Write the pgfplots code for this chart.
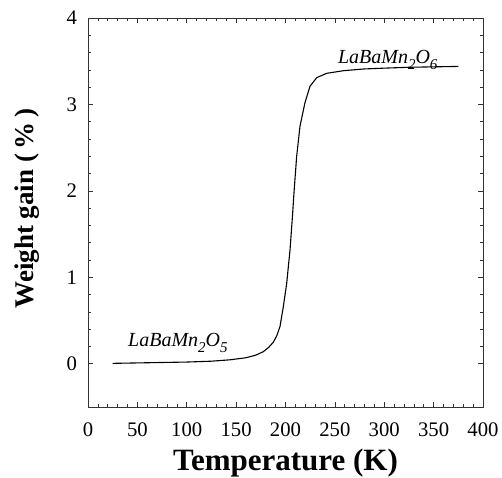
\documentclass[border=0pt]{standalone}
\usepackage{pgfplots}
\pgfplotsset{compat=1.18}
\usetikzlibrary{calc}
\usepackage{fontspec}
\setmainfont{Liberation Serif}
\newcommand{\sub}[1]{\raisebox{-0.3em}{\fontsize{15}{18}\selectfont #1}}
\begin{document}
\begin{tikzpicture}
\begin{axis}[
  name=ax,
  scale only axis,
  width=395pt, height=389pt,
  xmin=0, xmax=400, ymin=-0.5, ymax=4,
  xtick={0,50,...,400}, ytick={0,1,2,3,4},
  minor x tick num=4, minor y tick num=4,
  tick align=inside,
  major tick length=5pt, minor tick length=3pt,
  axis line style={line width=0.7pt, black!80},
  every tick/.style={black!80, line width=0.6pt},
  /pgf/number format/assume math mode=true,
  ticklabel style={font=\fontsize{20.7}{24}\selectfont},
  xticklabel style={yshift=-12pt},
  yticklabel style={xshift=-7.5pt},
  xlabel={Temperature (K)},
  ylabel={Weight gain (\,\%\,)},
  xlabel style={font=\fontsize{31}{36}\selectfont\bfseries, at={(axis description cs:0.5,-0.162)}, anchor=base},
  ylabel style={font=\fontsize{27}{32}\selectfont\bfseries, at={(axis description cs:-0.139,0.51)}, anchor=base},
  clip=false,
]
\addplot[black, line width=1.1pt] coordinates {
(25,0.005) (50,0.01) (75,0.015) (100,0.02) (125,0.03) (143.8,0.046)
(160,0.07) (170,0.1) (177.5,0.14) (183,0.19) (187.7,0.25) (191,0.32)
(194.4,0.43) (197.8,0.66) (201.2,0.93) (204.6,1.32) (207,1.70)
(208.6,1.98) (211.3,2.40) (214.7,2.75) (219.7,3.02) (224.8,3.21)
(231.6,3.31) (241.7,3.36) (258.5,3.39) (278.8,3.41) (300,3.42)
(325,3.43) (350,3.435) (375,3.44)
};
\node[font=\fontsize{20}{24}\selectfont\itshape, anchor=base west, inner sep=0pt] at (axis cs:253,3.47) {LaBaMn\sub{2}O\sub{6}};
\node[font=\fontsize{20}{24}\selectfont\itshape, anchor=base west, inner sep=0pt] at (axis cs:40.5,0.2) {LaBaMn\sub{2}O\sub{5}};
\end{axis}
\pgfresetboundingbox
\path[use as bounding box] ($(ax.south west)+(-88pt,-70pt)$) rectangle ($(ax.north east)+(19pt,18pt)$);
\end{tikzpicture}
\end{document}
